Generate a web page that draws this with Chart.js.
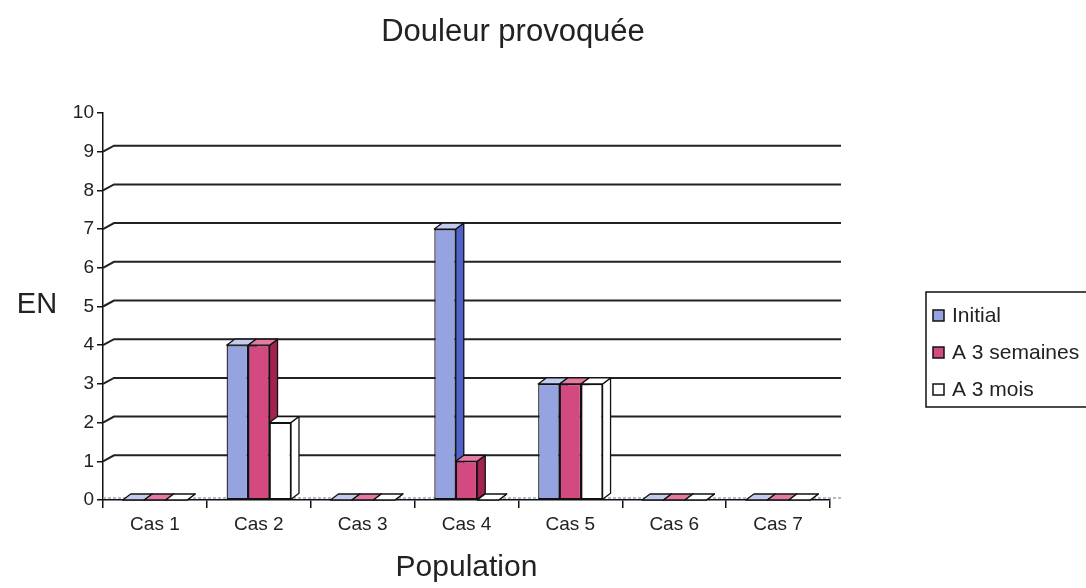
<!DOCTYPE html>
<html>
<head>
<meta charset="utf-8">
<script src="https://cdn.jsdelivr.net/npm/chart.js@4.4.1/dist/chart.umd.min.js"></script>
<style>
  html, body { margin: 0; background: #fff; }
  #wrap { width: 1086px; height: 588px; }
</style>
</head>
<body>
<div id="wrap"><canvas id="chart"></canvas></div>
<script>
const categories = ["Cas 1", "Cas 2", "Cas 3", "Cas 4", "Cas 5", "Cas 6", "Cas 7"];
const initial  = [0, 4, 0, 7, 3, 0, 0];
const semaines = [0, 4, 0, 1, 3, 0, 0];
const mois     = [0, 2, 0, 0, 3, 0, 0];
const yTicks   = [0, 1, 2, 3, 4, 5, 6, 7, 8, 9, 10];

const FONT = "'Liberation Sans', Arial, sans-serif";
const INK = "#222";

// front / side / top colours for the fake 3D look
const faces = [
  { front: "#95a3e0", side: "#4f62cc", top: "#c3cbf0" },
  { front: "#d24a80", side: "#a3224f", top: "#e57ba2" },
  { front: "#ffffff", side: "#ffffff", top: "#ffffff" },
];
const DX = 8, DY = 6;       // bar depth
const WX = 11, WY = 6;      // back wall offset

const look3d = {
  id: "look3d",
  beforeDatasetsDraw(chart) {
    const { ctx, chartArea: a, scales: { y } } = chart;
    ctx.save();
    // back wall grid lines
    ctx.strokeStyle = INK;
    ctx.lineWidth = 2;
    yTicks.forEach(v => {
      if (v === 0 || v === 10) return;
      const py = y.getPixelForValue(v);
      ctx.beginPath();
      ctx.moveTo(a.left, py);
      ctx.lineTo(a.left + WX, py - WY);
      ctx.lineTo(a.right + WX, py - WY);
      ctx.stroke();
    });
    // floor line
    ctx.strokeStyle = "#9aa6b8";
    ctx.lineWidth = 1.5;
    ctx.setLineDash([3, 2]);
    ctx.beginPath();
    ctx.moveTo(a.left, a.bottom - 2);
    ctx.lineTo(a.right + WX, a.bottom - 2);
    ctx.stroke();
    ctx.setLineDash([]);

    // sides and tops of the bars
    ctx.strokeStyle = "#111";
    ctx.lineWidth = 1.3;
    ctx.lineJoin = "round";
    categories.forEach((c, i) => {
      chart.data.datasets.forEach((ds, d) => {
        const el = chart.getDatasetMeta(d).data[i];
        const l = el.x - el.width / 2, r = el.x + el.width / 2;
        const t = el.y, b = el.base;
        ctx.fillStyle = faces[d].side;
        ctx.beginPath();
        ctx.moveTo(r, t); ctx.lineTo(r + DX, t - DY);
        ctx.lineTo(r + DX, b - DY); ctx.lineTo(r, b);
        ctx.closePath(); ctx.fill(); ctx.stroke();
        ctx.fillStyle = faces[d].top;
        ctx.beginPath();
        ctx.moveTo(l, t); ctx.lineTo(l + DX, t - DY);
        ctx.lineTo(r + DX, t - DY); ctx.lineTo(r, t);
        ctx.closePath(); ctx.fill(); ctx.stroke();
      });
    });
    ctx.restore();
  },
  afterDraw(chart) {
    const { ctx } = chart;
    ctx.save();
    ctx.fillStyle = INK;
    // title
    ctx.font = "31px " + FONT;
    ctx.textAlign = "center";
    ctx.textBaseline = "alphabetic";
    ctx.fillText("Douleur provoquée", 513, 41);
    // y axis label, kept horizontal
    ctx.font = "29px " + FONT;
    ctx.fillText("EN", 37, 313);
    // legend
    ctx.strokeStyle = "#111";
    ctx.lineWidth = 1.5;
    ctx.strokeRect(926, 292, 170, 115);
    ctx.font = "21px " + FONT;
    ctx.textAlign = "left";
    ctx.textBaseline = "middle";
    chart.data.datasets.forEach((ds, d) => {
      const cy = 315 + d * 37;
      ctx.fillStyle = faces[d].front;
      ctx.fillRect(933, cy - 5, 11, 11);
      ctx.strokeStyle = "#111";
      ctx.lineWidth = 1.5;
      ctx.strokeRect(933, cy - 5, 11, 11);
      ctx.fillStyle = INK;
      ctx.fillText(ds.label, 952, cy + 1);
    });
    ctx.restore();
  }
};

const barStyle = (d) => ({
  backgroundColor: faces[d].front,
  borderColor: "#111",
  borderWidth: 1.3,
  borderSkipped: false,
  categoryPercentage: 0.62,
  barPercentage: 1.0,
});

new Chart(document.getElementById("chart"), {
  type: "bar",
  data: {
    labels: categories,
    datasets: [
      { label: "Initial", data: initial, ...barStyle(0) },
      { label: "A 3 semaines", data: semaines, ...barStyle(1) },
      { label: "A 3 mois", data: mois, ...barStyle(2) },
    ]
  },
  plugins: [look3d],
  options: {
    animation: false,
    responsive: true,
    maintainAspectRatio: false,
    devicePixelRatio: 1,
    layout: { padding: { top: 113, right: 256, left: 0, bottom: 0 } },
    plugins: {
      legend: { display: false },
      title: { display: false },
      tooltip: { enabled: false },
    },
    scales: {
      x: {
        grid: { offset: true, drawOnChartArea: false, color: "#111", lineWidth: 1.5, tickLength: 8 },
        border: { color: "#111", width: 1.5 },
        ticks: { color: INK, font: { family: FONT, size: 19 }, padding: 5 },
        title: { display: true, text: "Population", color: INK,
                 font: { family: FONT, size: 30 }, padding: { bottom: 2 } },
        afterFit: (s) => { s.height = 88; },
      },
      y: {
        min: 0, max: 10,
        ticks: { stepSize: 1, color: INK, font: { family: FONT, size: 19 }, padding: 3 },
        grid: { drawOnChartArea: false, color: "#111", lineWidth: 1.5, tickLength: 6 },
        border: { color: "#111", width: 1.5 },
        afterFit: (s) => { s.width = 103; },
      }
    }
  }
});
</script>
</body>
</html>
